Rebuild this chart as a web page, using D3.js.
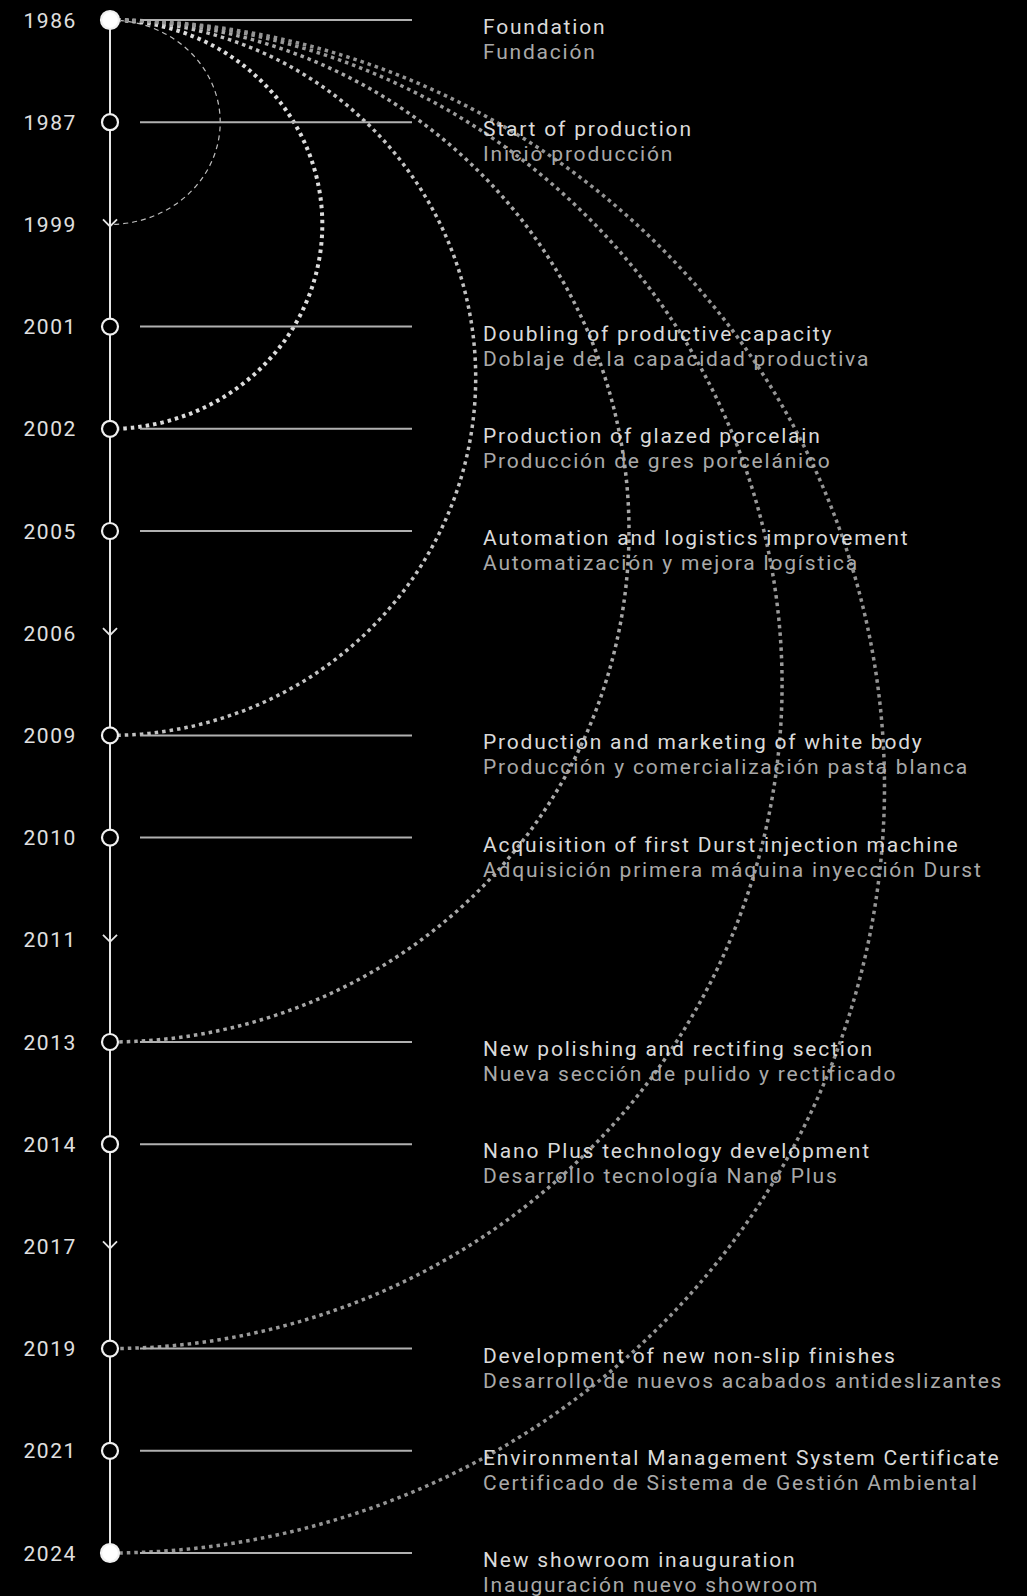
<!DOCTYPE html>
<html>
<head>
<meta charset="utf-8">
<script src="https://cdn.jsdelivr.net/npm/d3@7"></script>
<style>
  html, body { margin: 0; padding: 0; background: #000; }
  svg { display: block; }
</style>
</head>
<body>
<div id="chart"></div>
<script>
// timeline rows, top to bottom
const years = ['1986','1987','1999','2001','2002','2005','2006','2009','2010','2011','2013','2014','2017','2019','2021','2024'];
// years with only an arrow on the axis (no event text)
const arrowYears = ['1999','2006','2011','2017'];
// first and last are drawn as filled dots
const endYears = ['1986','2024'];

const eventYears = ['1986','1987','2001','2002','2005','2009','2010','2013','2014','2019','2021','2024'];
const titlesEn = [
  'Foundation',
  'Start of production',
  'Doubling of productive capacity',
  'Production of glazed porcelain',
  'Automation and logistics improvement',
  'Production and marketing of white body',
  'Acquisition of first Durst injection machine',
  'New polishing and rectifing section',
  'Nano Plus technology development',
  'Development of new non-slip finishes',
  'Environmental Management System Certificate',
  'New showroom inauguration'
];
const titlesEs = [
  'Fundación',
  'Inicio producción',
  'Doblaje de la capacidad productiva',
  'Producción de gres porcelánico',
  'Automatización y mejora logística',
  'Producción y comercialización pasta blanca',
  'Adquisición primera máquina inyección Durst',
  'Nueva sección de pulido y rectificado',
  'Desarrollo tecnología Nano Plus',
  'Desarrollo de nuevos acabados antideslizantes',
  'Certificado de Sistema de Gestión Ambiental',
  'Inauguración nuevo showroom'
];

// arcs all leave from 1986
const arcFrom = '1986';
const arcTo = ['1999','2002','2009','2013','2019','2024'];
const arcStyle = ['dashed','dotted','dotted','dotted','dotted','dotted'];

const width = 1027, height = 1596;
const axisX = 110, lineX0 = 140, lineX1 = 412, textX = 483, yearX = 77;
const font = 'Roboto, sans-serif';

const y = d3.scalePoint().domain(years).range([20, 1553]);

const svg = d3.select('#chart').append('svg')
  .attr('width', width)
  .attr('height', height)
  .style('background', '#000');

// arcs (half ellipses hanging off the axis)
const arcColors = ['#bdbdbd','#dcdcdc','#c2c2c2','#a8a8a8','#9a9a9a','#949494'];
const arcData = arcTo.map((t, i) => ({from: arcFrom, to: t, style: arcStyle[i], color: arcColors[i]}));
svg.append('g').selectAll('path')
  .data(arcData)
  .join('path')
  .attr('fill', 'none')
  .attr('stroke', d => d.color)
  .attr('stroke-width', d => d.style == 'dashed' ? 1.2 : (d.to == '2002' ? 4 : 3.5))
  .attr('stroke-dasharray', d => d.style == 'dashed' ? '5 4' : '3.5 4')
  .attr('d', d => {
    const y0 = y(d.from), y1 = y(d.to);
    const ry = (y1 - y0) / 2, rx = ry + 8;
    return 'M' + axisX + ',' + y0 + ' A' + rx + ',' + ry + ' 0 0 1 ' + axisX + ',' + y1;
  });

// horizontal guide lines
svg.append('g').selectAll('line')
  .data(eventYears)
  .join('line')
  .attr('x1', lineX0).attr('x2', lineX1)
  .attr('y1', d => y(d)).attr('y2', d => y(d))
  .attr('stroke', '#b0b0b0')
  .attr('stroke-width', 2);

// vertical axis
svg.append('line')
  .attr('x1', axisX).attr('x2', axisX)
  .attr('y1', y(years[0])).attr('y2', y(years[years.length - 1]))
  .attr('stroke', '#e6e6e6')
  .attr('stroke-width', 2);

// arrows
svg.append('g').selectAll('path')
  .data(arrowYears)
  .join('path')
  .attr('fill', 'none')
  .attr('stroke', '#e6e6e6')
  .attr('stroke-width', 1.8)
  .attr('d', d => 'M' + (axisX - 7) + ',' + (y(d) - 5) + ' L' + axisX + ',' + (y(d) + 2) + ' L' + (axisX + 7) + ',' + (y(d) - 5));

// nodes
svg.append('g').selectAll('circle')
  .data(eventYears)
  .join('circle')
  .attr('cx', axisX)
  .attr('cy', d => y(d))
  .attr('r', d => endYears.includes(d) ? 9 : 8)
  .attr('fill', d => endYears.includes(d) ? '#fff' : '#000')
  .attr('stroke', '#f0f0f0')
  .attr('stroke-width', 2.2);

// year labels
svg.append('g').selectAll('text')
  .data(years)
  .join('text')
  .attr('x', yearX)
  .attr('y', d => y(d))
  .attr('dy', '0.36em')
  .attr('text-anchor', 'end')
  .attr('fill', '#e0e0e0')
  .style('font-family', font)
  .style('font-size', '21px')
  .style('letter-spacing', '1.6px')
  .text(d => d);

// event texts
const ev = svg.append('g').selectAll('g')
  .data(eventYears)
  .join('g')
  .attr('transform', d => 'translate(' + textX + ',' + y(d) + ')');
ev.append('text')
  .attr('y', 14)
  .attr('fill', '#dadada')
  .style('font-family', font)
  .style('font-size', '21px')
  .style('letter-spacing', '1.8px')
  .text((d, i) => titlesEn[i]);
ev.append('text')
  .attr('y', 39)
  .attr('fill', '#a9a9a9')
  .style('font-family', font)
  .style('font-size', '21px')
  .style('letter-spacing', '1.8px')
  .text((d, i) => titlesEs[i]);
</script>
</body>
</html>
